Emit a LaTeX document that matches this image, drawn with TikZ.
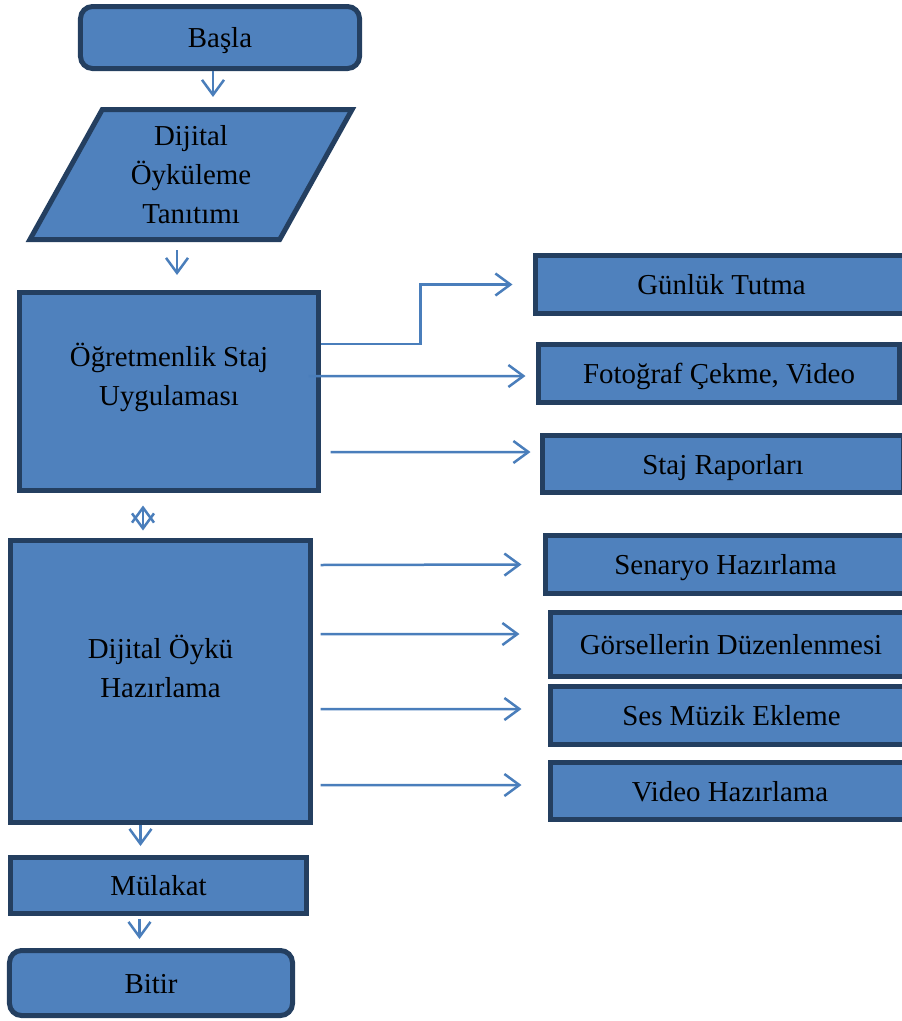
\documentclass[tikz,border=0pt]{standalone}
\usepackage{fontspec}
\setmainfont{Liberation Serif}
\usepackage{tikz}
\usetikzlibrary{positioning}
\usetikzlibrary{shapes.geometric}
\usetikzlibrary{arrows.meta}

\definecolor{boxfill}{HTML}{4F81BD}
\definecolor{boxline}{HTML}{243F60}
\definecolor{arrowline}{HTML}{4A7EBB}

\begin{document}
\begin{tikzpicture}[x=1bp, y=-1bp,
		font=\fontsize{29}{39}\selectfont,
		>={Straight Barb[length=15bp, width=22bp]},
		box/.style={rectangle, draw=boxline, fill=boxfill, line width=5bp, align=center, inner sep=0pt},
		onebox/.style={box, text height=20bp, text depth=0pt},
		roundbox/.style={onebox, rounded corners=12bp},
		arr/.style={draw=arrowline, line width=2.5bp, ->}]
				\useasboundingbox (0,0) rectangle (902,1021);
				\clip (0,0) rectangle (902,1021);
				
				% left column
				\node[roundbox, minimum width=279bp, minimum height=62bp] (basla) at (220,37.5) {Başla};
				\node[box, trapezium, trapezium left angle=63.4, trapezium right angle=116.6, trapezium stretches=true,
					minimum width=323bp, minimum height=130bp] (intro) at (191,174.5) {Dijital\\Öyküleme\\Tanıtımı};
				\node[box, minimum width=299bp, minimum height=198bp,
					label={[align=center, yshift=14bp]center:Öğretmenlik Staj\\Uygulaması}] (ogr) at (169,391.5) {};
				\node[box, minimum width=300bp, minimum height=282bp,
					label={[align=center, yshift=15bp]center:Dijital Öykü\\Hazırlama}] (dob) at (160.5,681.5) {};
				\node[onebox, minimum width=296bp, minimum height=56bp] (mul) at (158.5,885.5) {Mülakat};
				\node[roundbox, minimum width=283bp, minimum height=65bp] (bitir) at (151,983) {Bitir};
				
				% right column
				\node[onebox, minimum width=372bp, minimum height=58bp] (gunluk) at (721.5,284.5) {Günlük Tutma};
				\node[onebox, minimum width=361bp, minimum height=58bp] (foto) at (719,373.5) {Fotoğraf Çekme, Video};
				\node[onebox, minimum width=361bp, minimum height=57bp] (rapor) at (723,464) {Staj Raporları};
				\node[onebox, minimum width=360bp, minimum height=58bp] (senaryo) at (725.5,564.5) {Senaryo Hazırlama};
				\node[onebox, minimum width=361bp, minimum height=64bp] (gorsel) at (731,644.5) {Görsellerin Düzenlenmesi};
				\node[onebox, minimum width=362bp, minimum height=58bp] (ses) at (731.5,715.5) {Ses Müzik Ekleme};
				\node[onebox, minimum width=359bp, minimum height=57bp] (video) at (730,791) {Video Hazırlama};
				
				% main flow
				\draw[arr, shorten >=10bp] ([xshift=-7bp]basla.south) -- ([xshift=-7bp]basla.south |- intro.north);
				\draw[arr, shorten <=8bp, shorten >=15bp] ([xshift=-14bp]intro.south) -- ([xshift=-14bp]intro.south |- ogr.north);
				\draw[arr, <->, shorten <=12.5bp, shorten >=7.5bp] ([xshift=-26bp]ogr.south) -- ([xshift=-26bp]ogr.south |- dob.north);
				\draw[arr, shorten >=9bp] ([xshift=-20bp]dob.south) -- ([xshift=-20bp]dob.south |- mul.north);
				\draw[arr, shorten <=3bp, shorten >=9bp] ([xshift=-19bp]mul.south) -- ([xshift=-19bp]mul.south |- bitir.north);
				
				% side branches
				\draw[arr] ([yshift=47.5bp]ogr.east) -- ++(99.5,0) |- ([xshift=-20.5bp]gunluk.west);
				\draw[arr] ([xshift=-12.5bp, yshift=15.5bp]ogr.east) -- ([xshift=-10.5bp, yshift=-2.5bp]foto.west);
				\draw[arr] ([xshift=9.5bp, yshift=-60.5bp]ogr.east) -- ([xshift=-9.5bp, yshift=12bp]rapor.west);
				\draw[arr] ([xshift=7.5bp, yshift=116.5bp]dob.east) -- ([xshift=-21.5bp]senaryo.west);
				\draw[arr] ([xshift=7.5bp, yshift=47.5bp]dob.east) -- ([xshift=-28.5bp, yshift=10.5bp]gorsel.west);
				\draw[arr] ([xshift=7.5bp, yshift=-27.5bp]dob.east) -- ([xshift=-26.5bp, yshift=6.5bp]ses.west);
				\draw[arr] ([xshift=7.5bp, yshift=-103.5bp]dob.east) -- ([xshift=-26.5bp, yshift=6bp]video.west);
\end{tikzpicture}
\end{document}
